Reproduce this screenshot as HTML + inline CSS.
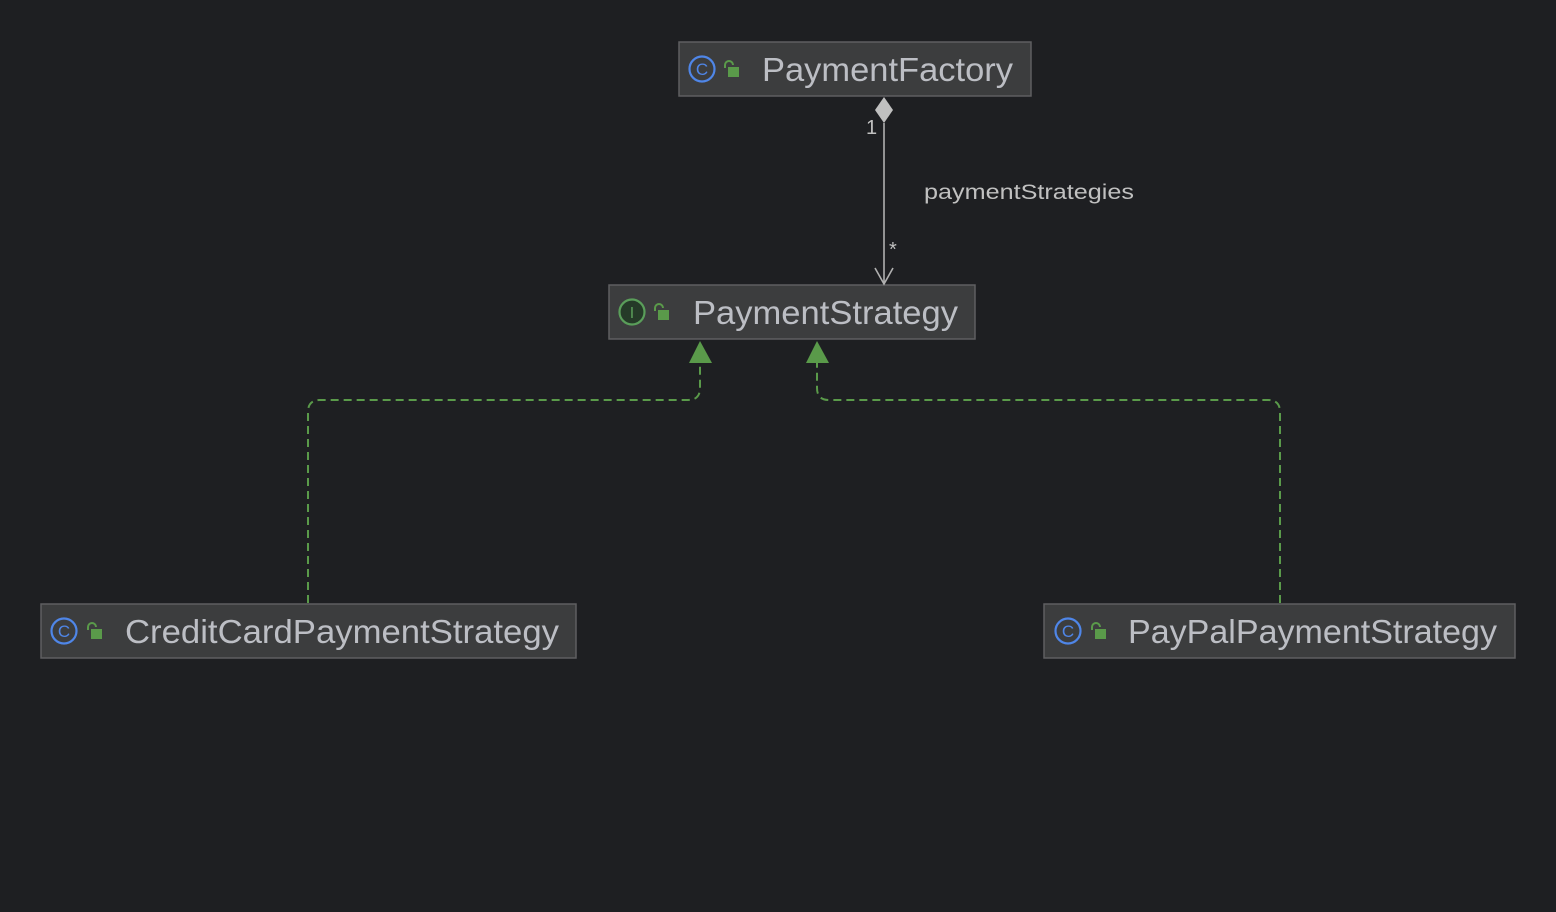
<!DOCTYPE html>
<html><head><style>
html,body{margin:0;padding:0;background:#1e1f22;width:1556px;height:912px;overflow:hidden}
svg text{font-family:"Liberation Sans",sans-serif}
</style></head><body>
<svg width="1556" height="912" xmlns="http://www.w3.org/2000/svg">
<rect width="1556" height="912" fill="#1e1f22"/>
<g fill="#3c3d3e" stroke="#5e5f61" stroke-width="1.5">
<rect x="679" y="42" width="352" height="54"/>
<rect x="609" y="285" width="366" height="54"/>
<rect x="41" y="604" width="535" height="54"/>
<rect x="1044" y="604" width="471" height="54"/>
</g>
<g fill="none" stroke="#4f86e8" stroke-width="2.2">
<circle cx="702" cy="69" r="12.5"/><circle cx="64" cy="631" r="12.5"/><circle cx="1068" cy="631" r="12.5"/>
</g>
<g fill="#4f86e8" font-size="17" text-anchor="middle">
<text x="702" y="75">C</text><text x="64" y="637">C</text><text x="1068" y="637">C</text>
</g>
<circle cx="632" cy="312" r="12.5" fill="#253a28" stroke="#5a9e5a" stroke-width="2.2"/>
<text x="632" y="318" fill="#5a9e5a" font-size="16" text-anchor="middle">I</text>
<g fill="#5a9a4a">
<rect x="728" y="67" width="11" height="10"/><rect x="658" y="310" width="11" height="10"/><rect x="91" y="629" width="11" height="10"/><rect x="1095" y="629" width="11" height="10"/>
</g>
<g fill="none" stroke="#5a9a4a" stroke-width="2">
<path d="M725 68v-3a4 4 0 0 1 8 0"/><path d="M655 311v-3a4 4 0 0 1 8 0"/><path d="M88 630v-3a4 4 0 0 1 8 0"/><path d="M1092 630v-3a4 4 0 0 1 8 0"/>
</g>
<g fill="#bcbec4" font-size="33">
<text x="762" y="81" textLength="251" lengthAdjust="spacingAndGlyphs">PaymentFactory</text>
<text x="693" y="324" textLength="265" lengthAdjust="spacingAndGlyphs">PaymentStrategy</text>
<text x="125" y="643" textLength="434" lengthAdjust="spacingAndGlyphs">CreditCardPaymentStrategy</text>
<text x="1128" y="643" textLength="369" lengthAdjust="spacingAndGlyphs">PayPalPaymentStrategy</text>
</g>
<path d="M884 97 L893 110 L884 123 L875 110 Z" fill="#c0c0c0"/>
<line x1="884" y1="123" x2="884" y2="284" stroke="#b0b0b0" stroke-width="1.6"/>
<path d="M875 268 L884 284 L893 268" fill="none" stroke="#b0b0b0" stroke-width="1.6"/>
<g fill="#c0c0c0" font-size="20">
<text x="866" y="134">1</text>
<text x="889" y="256">*</text>
<text x="924" y="199" font-size="21" textLength="210" lengthAdjust="spacingAndGlyphs">paymentStrategies</text>
</g>
<g fill="none" stroke="#5a9a4a" stroke-width="2" stroke-dasharray="8 5">
<path d="M308 603 V412 Q308 400 320 400 H688 Q700 400 700 388 V362"/>
<path d="M1280 603 V412 Q1280 400 1268 400 H829 Q817 400 817 388 V362"/>
</g>
<g fill="#5a9a4a">
<path d="M689 363 L700 341 L712 363 Z"/>
<path d="M806 363 L817 341 L829 363 Z"/>
</g>
</svg>
</body></html>
